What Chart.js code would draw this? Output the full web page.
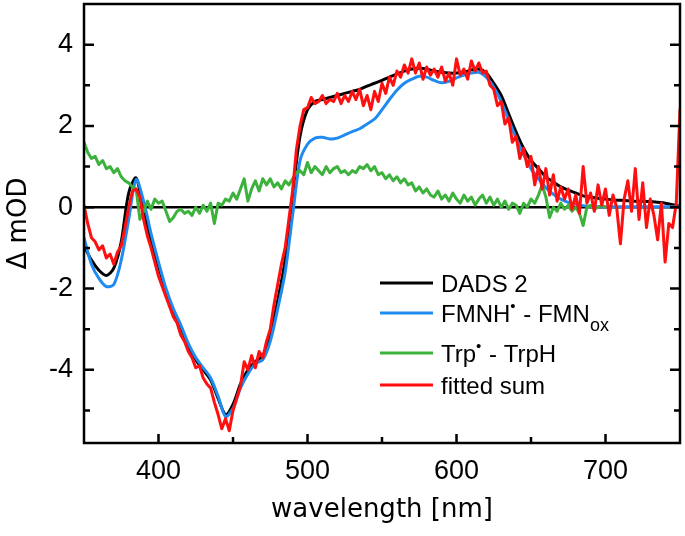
<!DOCTYPE html>
<html lang="en">
<head>
    <meta charset="UTF-8">
    <title>DADS 2 vs. FMNH / Trp difference spectra</title>
    <script src="https://cdn.jsdelivr.net/npm/chart.js"></script>
    <style>
        html, body { margin: 0; padding: 0; background: #fff; }
        #wrap { width: 685px; height: 536px; }
    </style>
</head>
<body>
    <div id="wrap"><canvas id="spectra" width="685" height="536"></canvas></div>
    <script>
        // smooth spectra, sampled every 5 nm
        const wlCoarse = [
            350, 355, 360, 365, 370, 375, 380, 385, 390, 395,
            400, 405, 410, 415, 420, 425, 430, 435, 440, 445,
            450, 455, 460, 465, 470, 475, 480, 485, 490, 495,
            500, 505, 510, 515, 520, 525, 530, 535, 540, 545,
            550, 555, 560, 565, 570, 575, 580, 585, 590, 595,
            600, 605, 610, 615, 620, 625, 630, 635, 640, 645,
            650, 655, 660, 665, 670, 675, 680, 685, 690, 695,
            700, 705, 710, 715, 720, 725, 730, 735, 740, 745,
            750
        ];
        const dads2 = [
            -0.95, -1.3, -1.55, -1.68, -1.5, -0.85, 0.35, 0.72, -0.1, -0.8,
            -1.45, -2.05, -2.55, -2.95, -3.4, -3.75, -4.0, -4.25, -4.7, -5.1,
            -4.85, -4.35, -4.0, -3.8, -3.65, -3.15, -2.3, -1.3, 0.3, 1.75,
            2.4, 2.6, 2.65, 2.7, 2.75, 2.8, 2.85, 2.9, 2.98, 3.05,
            3.12, 3.2, 3.28, 3.35, 3.4, 3.42, 3.4, 3.35, 3.32, 3.3,
            3.3, 3.32, 3.38, 3.4, 3.3, 3.05, 2.75, 2.3, 1.85, 1.45,
            1.15, 0.95, 0.75, 0.62, 0.5, 0.42, 0.35, 0.28, 0.25, 0.22,
            0.2, 0.18, 0.17, 0.16, 0.15, 0.15, 0.14, 0.12, 0.1, 0.06,
            0.03
        ];
        const fmnDiff = [
            -0.75, -1.4, -1.75, -1.95, -1.9, -1.3, -0.3, 0.68, 0.15, -0.65,
            -1.35, -2.0, -2.5, -2.9, -3.35, -3.7, -3.95, -4.2, -4.65, -5.15,
            -4.95, -4.45, -4.1, -3.85, -3.75, -3.3, -2.5, -1.6, -0.2, 1.15,
            1.55, 1.7, 1.72, 1.68, 1.7, 1.78, 1.86, 1.93, 2.05, 2.17,
            2.4, 2.65, 2.88, 3.05, 3.15, 3.22, 3.2, 3.12, 3.06, 3.1,
            3.18, 3.25, 3.3, 3.32, 3.2, 2.95, 2.6, 2.15, 1.7, 1.3,
            0.95, 0.7, 0.48, 0.32, 0.2, 0.12, 0.07, 0.04, 0.02, 0.01,
            0.01, 0.01, 0.01, 0.01, 0.01, 0.01, 0.01, 0.01, 0.01, 0.01,
            0.01
        ];

        // noisy spectra, measured every 2.5 nm from 350 nm (one row = 10 nm)
        const fineStart = 350;
        const fineStep = 2.5;
        const trpDiff = [
            1.6, 1.35, 1.2, 1.25,      // 350
            1.05, 1.15, 0.95, 1.0,     // 360
            0.85, 0.95, 0.75, 0.65,    // 370
            0.6, 0.5, 0.45, -0.3,      // 380
            -0.1, 0.15, -0.05, 0.2,    // 390
            0.1, 0.15, -0.1, -0.35,    // 400
            -0.25, -0.1, -0.05, -0.15, // 410
            -0.1, -0.2, 0.0, -0.15,    // 420
            0.05, -0.1, 0.1, -0.4,     // 430
            0.1, 0.05, 0.2, 0.15,      // 440
            0.35, 0.2, 0.45, 0.7,      // 450
            0.15, 0.45, 0.65, 0.4,     // 460
            0.7, 0.55, 0.7, 0.5,       // 470
            0.6, 0.45, 0.65, 0.55,     // 480
            0.7, 0.85, 0.9, 0.8,       // 490
            1.1, 0.85, 1.0, 0.9,       // 500
            0.8, 1.0, 0.85, 0.95,      // 510
            1.0, 0.85, 0.9, 0.8,       // 520
            0.9, 0.85, 1.0, 0.95,      // 530
            1.05, 0.9, 1.0, 0.8,       // 540
            0.85, 0.7, 0.8, 0.65,      // 550
            0.75, 0.6, 0.7, 0.55,      // 560
            0.6, 0.4, 0.5, 0.35,       // 570
            0.45, 0.3, 0.25, 0.4,      // 580
            0.2, 0.3, 0.15, 0.35,      // 590
            0.2, 0.1, 0.3, 0.15,       // 600
            0.25, 0.05, 0.2, 0.3,      // 610
            0.1, 0.25, 0.05, 0.2,      // 620
            0.0, 0.15, -0.05, 0.1,     // 630
            0.05, -0.15, 0.1, 0.0,     // 640
            0.2, 0.1, 0.3, 0.55,       // 650
            0.25, -0.25, 0.0, -0.1,    // 660
            0.1, -0.05, 0.05, -0.1,    // 670
            0.0, -0.15, -0.45, 0.0,    // 680
            0.05, -0.05, 0.0, 0.05,    // 690
            0.0                        // 700
        ];
        const fittedSum = [
            0.05, -0.4, -0.75, -0.85,  // 350
            -1.05, -0.95, -1.25, -1.15,// 360
            -1.4, -1.1, -0.95, -0.5,   // 370
            0.0, 0.4, 0.45, 0.25,      // 380
            -0.3, -0.7, -1.0, -1.35,   // 390
            -1.7, -1.95, -2.2, -2.45,  // 400
            -2.7, -2.85, -3.15, -3.3,  // 410
            -3.55, -3.7, -3.95, -3.9,  // 420
            -4.2, -4.35, -4.45, -4.8,  // 430
            -5.1, -5.45, -5.2, -5.5,   // 440
            -5.0, -4.7, -4.4, -3.8,    // 450
            -4.0, -3.65, -3.95, -3.55, // 460
            -3.7, -3.3, -3.0, -2.4,    // 470
            -1.9, -1.4, -1.0, -0.3,    // 480
            0.4, 1.4, 2.0, 2.4,        // 490
            2.45, 2.7, 2.55, 2.6,      // 500
            2.75, 2.55, 2.65, 2.6,     // 510
            2.8, 2.55, 2.75, 2.6,      // 520
            2.85, 2.65, 2.9, 2.5,      // 530
            2.75, 2.4, 2.85, 2.6,      // 540
            3.05, 2.8, 3.2, 3.0,       // 550
            3.35, 3.2, 3.5, 3.3,       // 560
            3.65, 3.3, 3.55, 3.15,     // 570
            3.45, 3.25, 3.4, 3.2,      // 580
            3.45, 3.1, 3.3, 3.0,       // 590
            3.65, 3.25, 3.4, 3.15,     // 600
            3.6, 3.35, 3.55, 3.3,      // 610
            3.35, 3.0, 2.9, 2.5,       // 620
            2.6, 2.05, 2.2, 1.6,       // 630
            1.75, 1.2, 1.45, 1.0,      // 640
            1.25, 0.55, 1.0, 0.45,     // 650
            0.95, 0.3, 0.8, 0.15,      // 660
            0.5, 0.2, 0.45, -0.05,     // 670
            0.3, -0.15, 1.0, 0.1,      // 680
            0.35, -0.1, 0.55, 0.05,    // 690
            0.45, -0.2, 0.3, 0.0,      // 700
            -0.9, 0.2, 0.65, -0.1,     // 710
            0.95, -0.3, 0.6, -0.5,     // 720
            0.2, -0.2, -0.8, 0.1,      // 730
            -1.35, -0.4, -0.5, 0.1,    // 740
            2.4                        // 750
        ];

        const xMajorTicks = [400, 500, 600, 700];
        const xMinorTicks = [450, 550, 650];
        const yMajorTicks = [-4, -2, 0, 2, 4];
        const yMinorTicks = [-5, -3, -1, 1, 3];

        const BLACK = '#000000';
        const BLUE = '#1f8bf0';
        const GREEN = '#3cb23c';
        const RED = '#ff0f0f';

        function coarsePoints(values) {
            return values.map((v, i) => ({ x: wlCoarse[i], y: v }));
        }
        function finePoints(values) {
            return values.map((v, i) => ({ x: fineStart + i * fineStep, y: v }));
        }

        // zero line, frame, inward ticks and the legend
        const decorations = {
            id: 'decorations',
            beforeDatasetsDraw(chart) {
                const { ctx, chartArea: a, scales: { y } } = chart;
                const y0 = y.getPixelForValue(0);
                ctx.save();
                ctx.strokeStyle = BLACK;
                ctx.lineWidth = 2.5;
                ctx.beginPath();
                ctx.moveTo(a.left, y0);
                ctx.lineTo(a.right, y0);
                ctx.stroke();
                ctx.restore();
            },
            afterDraw(chart) {
                const { ctx, chartArea: a, scales: { x, y } } = chart;
                ctx.save();
                ctx.strokeStyle = BLACK;
                ctx.lineWidth = 2.5;
                ctx.strokeRect(a.left, a.top, a.right - a.left, a.bottom - a.top);

                ctx.beginPath();
                const xTick = (v, len) => {
                    const px = x.getPixelForValue(v);
                    ctx.moveTo(px, a.bottom);
                    ctx.lineTo(px, a.bottom - len);
                };
                const yTick = (v, len) => {
                    const py = y.getPixelForValue(v);
                    ctx.moveTo(a.left, py);
                    ctx.lineTo(a.left + len, py);
                    ctx.moveTo(a.right, py);
                    ctx.lineTo(a.right - len, py);
                };
                xMajorTicks.forEach(v => xTick(v, 9));
                xMinorTicks.forEach(v => xTick(v, 6));
                yMajorTicks.forEach(v => yTick(v, 10));
                yMinorTicks.forEach(v => yTick(v, 6));
                ctx.stroke();

                // legend
                const rows = [
                    { color: BLACK, y: 283, parts: [['DADS 2', 'n']] },
                    { color: BLUE, y: 313, parts: [['FMNH', 'n'], ['\u2022', 'sup'], [' - FMN', 'n'], ['ox', 'sub']] },
                    { color: GREEN, y: 353, parts: [['Trp', 'n'], ['\u2022', 'sup'], [' - TrpH', 'n']] },
                    { color: RED, y: 385, parts: [['fitted sum', 'n']] }
                ];
                const fonts = {
                    n: '24px "Liberation Sans", Arial, sans-serif',
                    sup: '15px "Liberation Sans", Arial, sans-serif',
                    sub: '18px "Liberation Sans", Arial, sans-serif'
                };
                const shift = { n: 0, sup: -11, sub: 9 };
                rows.forEach(row => {
                    ctx.strokeStyle = row.color;
                    ctx.lineWidth = 3;
                    ctx.beginPath();
                    ctx.moveTo(380, row.y);
                    ctx.lineTo(433, row.y);
                    ctx.stroke();

                    ctx.fillStyle = BLACK;
                    ctx.textBaseline = 'alphabetic';
                    ctx.textAlign = 'left';
                    let tx = 441;
                    const base = row.y + 9;
                    row.parts.forEach(([txt, kind]) => {
                        ctx.font = fonts[kind];
                        ctx.fillText(txt, tx, base + shift[kind]);
                        tx += ctx.measureText(txt).width + (kind === 'sup' ? 1 : 0);
                    });
                });
                ctx.restore();
            }
        };

        const tickFont = { family: '"Liberation Sans", Arial, sans-serif', size: 27 };
        const titleFont = { family: '"DejaVu Sans", sans-serif', size: 26 };

        new Chart(document.getElementById('spectra'), {
            type: 'line',
            data: {
                datasets: [
                    { label: 'DADS 2', data: coarsePoints(dads2), borderColor: BLACK, order: 4, tension: 0.3 },
                    { label: 'FMNH - FMNox', data: coarsePoints(fmnDiff), borderColor: BLUE, order: 3, tension: 0.3 },
                    { label: 'Trp - TrpH', data: finePoints(trpDiff), borderColor: GREEN, order: 2 },
                    { label: 'fitted sum', data: finePoints(fittedSum), borderColor: RED, order: 1 }
                ]
            },
            options: {
                responsive: false,
                animation: false,
                devicePixelRatio: 1,
                layout: { padding: { top: 4, right: 5, left: 0, bottom: 0 } },
                elements: {
                    point: { radius: 0 },
                    line: { borderWidth: 3, borderJoinStyle: 'round', borderCapStyle: 'round' }
                },
                plugins: {
                    legend: { display: false },
                    tooltip: { enabled: false }
                },
                scales: {
                    x: {
                        type: 'linear',
                        min: 350,
                        max: 750,
                        afterFit: s => {
                            s.height = 93;
                            s.paddingLeft = 0;
                            s.paddingRight = 0;
                        },
                        afterBuildTicks: s => { s.ticks = xMajorTicks.map(v => ({ value: v })); },
                        grid: { display: false, drawTicks: false },
                        border: { display: false },
                        ticks: { color: BLACK, font: tickFont, padding: 12, maxRotation: 0 },
                        title: {
                            display: true,
                            text: 'wavelength [nm]',
                            color: BLACK,
                            font: titleFont,
                            padding: { top: 0, bottom: 10 }
                        }
                    },
                    y: {
                        min: -5.8,
                        max: 5,
                        afterFit: s => {
                            s.width = 84;
                            s.paddingTop = 0;
                            s.paddingBottom = 0;
                        },
                        afterBuildTicks: s => { s.ticks = yMajorTicks.map(v => ({ value: v })); },
                        grid: { display: false, drawTicks: false },
                        border: { display: false },
                        ticks: { color: BLACK, font: tickFont, padding: 11 },
                        title: {
                            display: true,
                            text: '\u0394 mOD',
                            color: BLACK,
                            font: titleFont,
                            padding: { top: 4, bottom: 0 }
                        }
                    }
                }
            },
            plugins: [decorations]
        });
    </script>
</body>
</html>
